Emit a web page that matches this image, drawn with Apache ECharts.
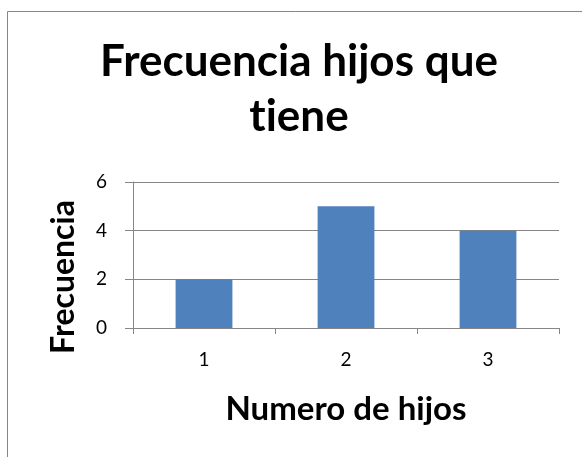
<!DOCTYPE html>
<html>
<head>
<meta charset="utf-8">
<script src="https://cdn.jsdelivr.net/npm/echarts@6/dist/echarts.min.js"></script>
<style>
  html, body { margin: 0; padding: 0; background: #fff; }
  #chart { width: 582px; height: 457px; }
</style>
</head>
<body>
<div id="chart"></div>
<script>
// Number of children per respondent and how often each occurs
const categories = ['1', '2', '3'];
const frecuencias = [2, 5, 4];
const yTicks = { min: 0, max: 6, interval: 2 };

const FONT = 'Lato';
const GRAY = '#868686';

const chart = echarts.init(document.getElementById('chart'), null, { renderer: 'canvas' });

chart.setOption({
  animation: false,
  backgroundColor: '#fff',
  title: {
    // ZWNJ keeps "t" and "i" as separate glyphs (no ligature)
    text: 'Frecuencia hijos que\nt\u200Ciene',
    left: 294,
    top: 29,
    textAlign: 'center',
    textStyle: {
      fontFamily: FONT,
      fontWeight: 'bold',
      fontSize: 44,
      lineHeight: 55,
      color: '#000'
    }
  },
  graphic: [
    {
      type: 'rect',
      silent: true,
      shape: { x: 7.5, y: 11.5, width: 700, height: 600 },
      style: { fill: 'none', stroke: GRAY, lineWidth: 1 }
    },
    {
      type: 'text',
      x: 64,
      y: 277,
      rotation: Math.PI / 2,
      style: {
        text: 'Frecuencia',
        fontFamily: FONT,
        fontWeight: 'bold',
        fontSize: 32,
        fill: '#000',
        align: 'center',
        verticalAlign: 'middle'
      }
    }
  ],
  grid: { left: 133, right: 23, top: 182, bottom: 129 },
  xAxis: {
    type: 'category',
    data: categories,
    name: 'Numero de hijos',
    nameLocation: 'middle',
    nameGap: 65,
    nameTextStyle: { fontFamily: FONT, fontWeight: 'bold', fontSize: 33, color: '#000' },
    axisLine: { lineStyle: { color: GRAY, width: 1 } },
    axisTick: { show: true, length: 6, lineStyle: { color: GRAY } },
    axisLabel: { fontFamily: FONT, fontSize: 19, color: '#000', margin: 22 },
    splitLine: { show: false }
  },
  yAxis: {
    type: 'value',
    min: yTicks.min,
    max: yTicks.max,
    interval: yTicks.interval,
    axisLine: { show: true, lineStyle: { color: GRAY, width: 1 } },
    axisTick: { show: true, length: 8, lineStyle: { color: GRAY } },
    axisLabel: { fontFamily: FONT, fontSize: 19, color: '#000', margin: 26 },
    splitLine: { show: true, lineStyle: { color: GRAY, width: 1 } }
  },
  series: [{
    type: 'bar',
    data: frecuencias,
    barWidth: '40%',
    itemStyle: { color: '#4f81bd' }
  }]
});
</script>
</body>
</html>
